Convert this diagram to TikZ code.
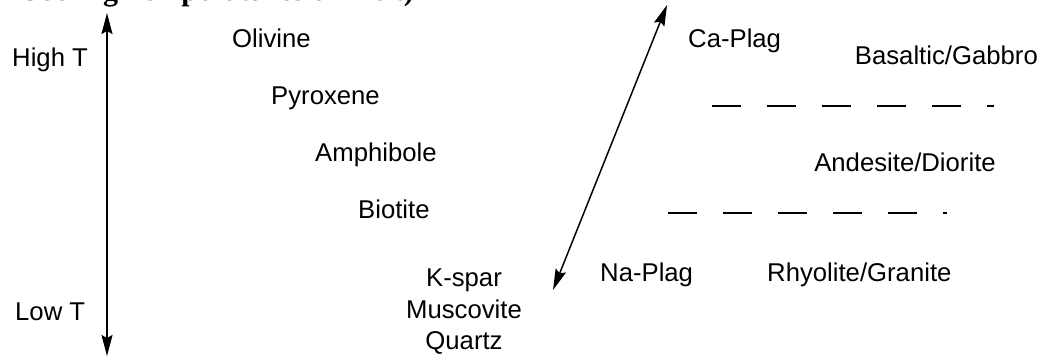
\documentclass[tikz,border=0pt]{standalone}
\usepackage{fontspec}
\setmainfont{Liberation Sans}
\newfontfamily\headfont{Liberation Serif}
\usetikzlibrary{arrows.meta}
\begin{document}
\begin{tikzpicture}[x=1pt,y=-1pt,
  lbl/.style={inner sep=0pt,font=\fontsize{25.7}{30}\selectfont},
  tarrow/.style={line width=1.5pt,{Stealth[length=21pt,width=11pt,inset=3pt]}-{Stealth[length=21pt,width=11pt,inset=3pt]}},
  divider/.style={line width=2pt,dash pattern=on 29pt off 26pt}]
\useasboundingbox (0,0) rectangle (1044,362);
% heading line: only its descenders reach below the page edge
\node[inner sep=0pt,anchor=base west] (head) at (18,0)
  {\fontsize{30}{34}\selectfont\headfont\bfseries Cooling Temperatures of Melt)};

% temperature axis
\node[lbl,anchor=base west] (high) at (12,66) {High T};
\node[lbl,anchor=base west] (low) at (15,320) {Low T};
\coordinate (ttop) at (107,13);
\coordinate (tbot) at (107,356);
\draw[tarrow] (tbot) -- (ttop);

% discontinuous series
\node[lbl,anchor=base west] (oli) at (232,47) {Olivine};
\node[lbl,anchor=base west] (pyx) at (271,104) {Pyroxene};
\node[lbl,anchor=base west] (amp) at (315,161) {Amphibole};
\node[lbl,anchor=base west] (bio) at (358,218) {Biotite};

% last minerals to crystallize
\node[lbl,anchor=base] (ksp) at (464,286) {K-spar};
\node[lbl,anchor=base] (mus) at (464,318) {Muscovite};
\node[lbl,anchor=base] (qtz) at (464,349) {Quartz};

% continuous plagioclase series
\coordinate (pbot) at (553,290);
\coordinate (ptop) at (667,5);
\draw[tarrow] (pbot) -- (ptop);
\node[lbl,anchor=base west] (cap) at (688,47) {Ca-Plag};
\node[lbl,anchor=base west] (nap) at (600,281) {Na-Plag};

% rock types
\node[lbl,anchor=base east] (bas) at (1038,64) {Basaltic/Gabbro};
\node[lbl,anchor=base] (and) at (905,171) {Andesite/Diorite};
\node[lbl,anchor=base west] (rhy) at (767,281) {Rhyolite/Granite};
\coordinate (d1a) at (712,106);
\coordinate (d1b) at (994,106);
\coordinate (d2a) at (668,213);
\coordinate (d2b) at (947,213);
\draw[divider] (d1a) -- (d1b);
\draw[divider] (d2a) -- (d2b);
\end{tikzpicture}
\end{document}
